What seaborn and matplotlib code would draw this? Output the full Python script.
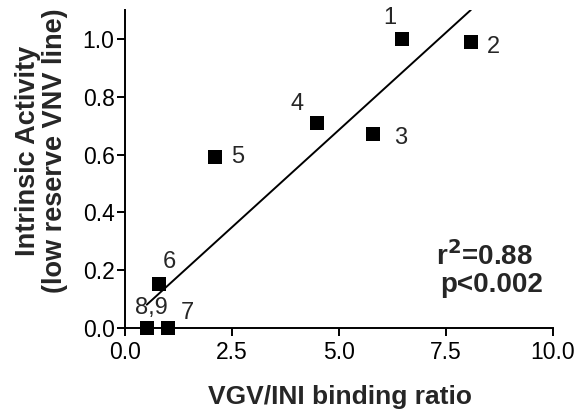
import matplotlib
matplotlib.use("Agg")
import matplotlib.pyplot as plt
import numpy as np
import pandas as pd
import seaborn as sns

# values
binding_ratio = [6.47, 8.08, 5.79, 4.49, 2.10, 0.79, 1.0, 0.51, 0.51]
intrinsic_activity = [1.0, 0.99, 0.671, 0.709, 0.592, 0.152, 0.0, 0.0, 0.0]
point_labels = ["1", "2", "3", "4", "5", "6", "7", "8,9", ""]
x_ticks = [0.0, 2.5, 5.0, 7.5, 10.0]
y_ticks = [0.0, 0.2, 0.4, 0.6, 0.8, 1.0]

# label offsets in pixels from each point
label_offsets = [(-12, 21), (23, -5), (28, -4), (-20, 19), (23, 0),
                 (11, 22), (20, 15), (5, 20), (0, 0)]

df = pd.DataFrame({"ratio": binding_ratio, "activity": intrinsic_activity})

sns.set_style("ticks")
plt.rcParams['font.family'] = ['Liberation Sans', 'DejaVu Sans']

fig = plt.figure(figsize=(5.77, 4.09), dpi=100)
ax = fig.add_axes([0.2166, 0.198, 0.7418, 0.7775])

sns.regplot(data=df, x="ratio", y="activity", ax=ax, ci=None, marker="s",
            scatter_kws={"s": 88, "color": "black", "alpha": 1, "clip_on": False,
                         "zorder": 3, "linewidths": 0},
            line_kws={"color": "black", "lw": 1.4})

for lab, xv, yv, off in zip(point_labels, binding_ratio, intrinsic_activity, label_offsets):
    if lab:
        ax.annotate(lab, (xv, yv), xytext=off, textcoords="offset pixels",
                    ha="center", va="center", fontsize=17)

# fit statistics
r2 = np.corrcoef(binding_ratio, intrinsic_activity)[0, 1] ** 2
ax.text(8.39, 0.218, "r$^{\\mathbf{2}}$=%.2f" % r2, ha="center", va="baseline",
        fontsize=20, fontweight="bold")
ax.text(8.57, 0.125, "p<0.002", ha="center", va="baseline",
        fontsize=20, fontweight="bold")

ax.set_xlim(0, 10)
ax.set_ylim(0, 1.1)
ax.set_xticks(x_ticks)
ax.set_yticks(y_ticks)
ax.set_xticklabels(["%.1f" % t for t in x_ticks], fontsize=16.5)
ax.set_yticklabels(["%.1f" % t for t in y_ticks], fontsize=16.5)

ax.set_xlabel("VGV/INI binding ratio", fontsize=19, fontweight="bold")
ax.xaxis.label.set_va("baseline")
ax.xaxis.set_label_coords(0.502, -0.239)
ax.set_ylabel("Intrinsic Activity\n(low reserve VNV line)", fontsize=19.5,
              fontweight="bold", linespacing=1.05)
ax.yaxis.label.set_va("center")
ax.yaxis.set_label_coords(-0.196, 0.557)

ax.tick_params(axis="x", width=1.4, length=6, pad=3.3, color="black", labelcolor="black")
ax.tick_params(axis="y", width=1.4, length=6, pad=1.5, color="black", labelcolor="black")
sns.despine(ax=ax)
for sp in ["left", "bottom"]:
    ax.spines[sp].set_linewidth(1.4)
    ax.spines[sp].set_color("black")

fig.savefig("out.png", dpi=100)
